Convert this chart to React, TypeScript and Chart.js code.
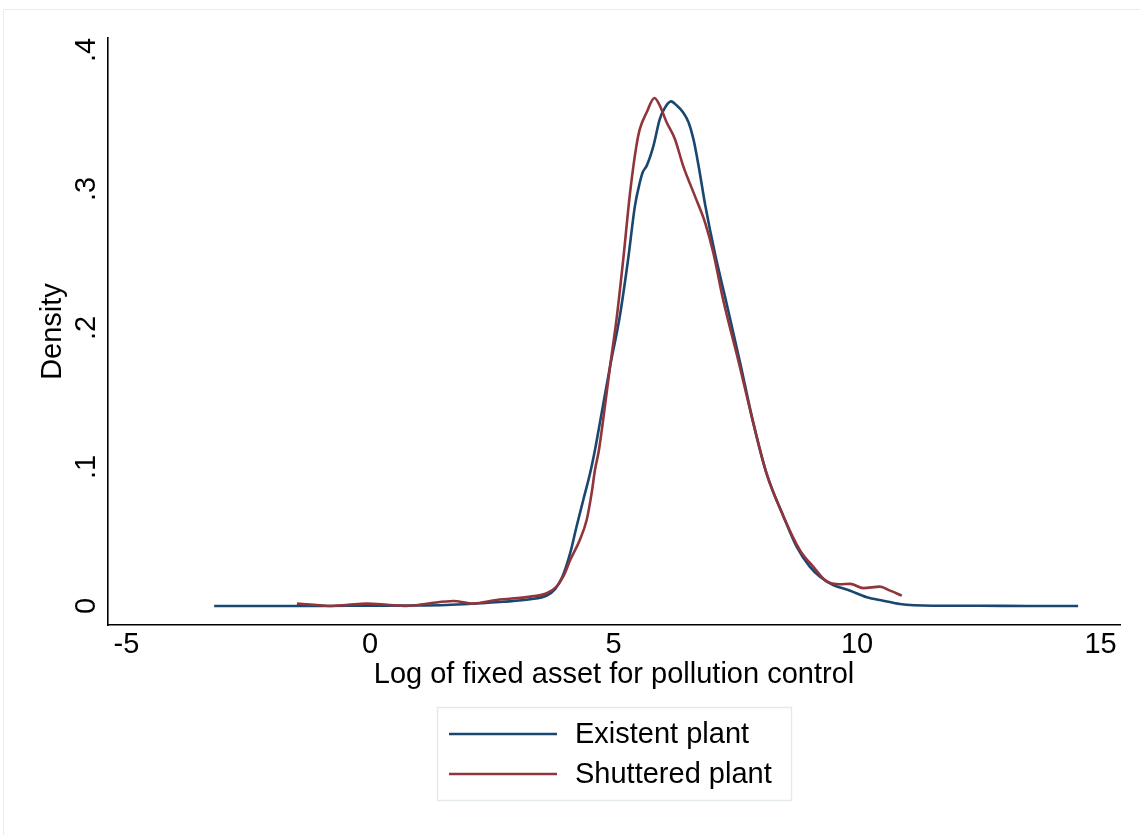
import React, { useEffect, useRef } from 'react';
import { Chart, registerables } from 'chart.js';

Chart.register(...registerables);

// ---- Data ----
const seriesNames = ['Existent plant', 'Shuttered plant'];

const existentX = [-3.2, -2.0, -1.0, 0.0, 0.9, 1.57, 2.26, 2.73, 3.29, 3.63, 3.8, 3.95, 4.11, 4.24, 4.38, 4.52, 4.62, 4.72, 4.93, 5.13, 5.3, 5.44, 5.54, 5.6, 5.68, 5.82, 5.95, 6.06, 6.18, 6.3, 6.43, 6.54, 6.64, 6.75, 6.88, 7.08, 7.32, 7.6, 7.87, 8.14, 8.49, 8.76, 9.03, 9.24, 9.51, 9.86, 10.2, 10.54, 10.88, 11.56, 12.5, 13.5, 14.54];
const existentY = [0, 0, 0, 0.0002, 0.0003, 0.0007, 0.002, 0.003, 0.0048, 0.0075, 0.012, 0.021, 0.038, 0.057, 0.0764, 0.0956, 0.1124, 0.1317, 0.1725, 0.2085, 0.2494, 0.2878, 0.3046, 0.312, 0.3166, 0.331, 0.3503, 0.3587, 0.363, 0.36, 0.355, 0.348, 0.336, 0.316, 0.289, 0.254, 0.218, 0.175, 0.1317, 0.0956, 0.0644, 0.0427, 0.0283, 0.0211, 0.0151, 0.011, 0.0063, 0.0038, 0.0014, 0.0002, 0.0001, 0, 0];

const shutteredX = [-1.5, -1.15, -0.82, -0.45, -0.07, 0.35, 0.75, 1.2, 1.71, 2.12, 2.6, 3.29, 3.63, 3.83, 3.98, 4.11, 4.31, 4.45, 4.55, 4.62, 4.7, 4.78, 4.93, 5.07, 5.2, 5.34, 5.47, 5.54, 5.68, 5.84, 5.95, 6.09, 6.26, 6.43, 6.67, 6.88, 7.05, 7.25, 7.56, 7.87, 8.14, 8.49, 8.83, 9.1, 9.38, 9.65, 9.86, 10.13, 10.47, 10.68, 10.92];
const shutteredY = [0.0017, 0.0009, 0.0, 0.0008, 0.0017, 0.0009, 0.0, 0.0018, 0.0036, 0.0017, 0.0043, 0.0067, 0.0091, 0.014, 0.022, 0.033, 0.0476, 0.062, 0.081, 0.098, 0.112, 0.132, 0.1725, 0.2085, 0.2494, 0.2974, 0.331, 0.343, 0.355, 0.3654, 0.36, 0.348, 0.336, 0.3166, 0.295, 0.2758, 0.254, 0.2205, 0.177, 0.1317, 0.0956, 0.0644, 0.04, 0.0283, 0.0175, 0.0156, 0.0159, 0.0128, 0.0139, 0.011, 0.0074];

const xTickValues = [-5, 0, 5, 10, 15];
const yTickValues = [0, 0.1, 0.2, 0.3, 0.4];
const yTickLabels = ['0', '.1', '.2', '.3', '.4'];

const xTitle = 'Log of fixed asset for pollution control';
const yTitle = 'Density';

// ---- Styling ----
const COLORS = ['#1a476f', '#90353b'];
const FONT = "'Liberation Sans', Arial, Helvetica, sans-serif";
const FONT_SIZE = 29;
const W = 1140;
const H = 835;

const toPoints = (xs: number[], ys: number[]) => xs.map((x, i) => ({ x, y: ys[i] }));

const backgroundPlugin = {
  id: 'bgFrame',
  beforeDraw(chart: any) {
    const ctx = chart.ctx;
    ctx.save();
    ctx.fillStyle = '#ffffff';
    ctx.fillRect(0, 0, chart.width, chart.height);
    ctx.strokeStyle = '#e6ecef';
    ctx.lineWidth = 1;
    ctx.beginPath();
    ctx.moveTo(3.5, chart.height);
    ctx.lineTo(3.5, 9.5);
    ctx.lineTo(chart.width, 9.5);
    ctx.stroke();
    ctx.restore();
  },
};

const legendPlugin = {
  id: 'boxLegend',
  afterDraw(chart: any) {
    const ctx = chart.ctx;
    ctx.save();
    ctx.strokeStyle = '#e3eaee';
    ctx.lineWidth = 1.5;
    ctx.strokeRect(437.5, 707.5, 354, 93);
    seriesNames.forEach((name, i) => {
      const y = 734 + i * 40;
      ctx.strokeStyle = COLORS[i];
      ctx.lineWidth = 2.6;
      ctx.beginPath();
      ctx.moveTo(449, y);
      ctx.lineTo(557, y);
      ctx.stroke();
      ctx.fillStyle = '#000';
      ctx.font = `${FONT_SIZE}px ${FONT}`;
      ctx.textBaseline = 'middle';
      ctx.textAlign = 'left';
      ctx.fillText(name, 575, y + 1);
    });
    ctx.restore();
  },
};

export default function App() {
  const canvasRef = useRef<HTMLCanvasElement | null>(null);

  useEffect(() => {
    document.body.style.margin = '0';
    const canvas = canvasRef.current;
    if (!canvas) return;

    const chart = new Chart(canvas, {
      type: 'line',
      data: {
        datasets: [
          {
            label: seriesNames[0],
            data: toPoints(existentX, existentY),
            borderColor: COLORS[0],
            backgroundColor: COLORS[0],
            borderWidth: 2.6,
            pointRadius: 0,
            fill: false,
            cubicInterpolationMode: 'monotone',
            order: 1,
          },
          {
            label: seriesNames[1],
            data: toPoints(shutteredX, shutteredY),
            borderColor: COLORS[1],
            backgroundColor: COLORS[1],
            borderWidth: 2.6,
            pointRadius: 0,
            fill: false,
            cubicInterpolationMode: 'monotone',
            order: 0,
          },
        ],
      },
      options: {
        animation: false,
        responsive: false,
        maintainAspectRatio: false,
        layout: { padding: { top: 38, right: 20, left: 0, bottom: 0 } },
        plugins: {
          legend: { display: false },
          tooltip: { enabled: false },
        },
        scales: {
          x: {
            type: 'linear',
            min: -5.38,
            max: 15.4,
            afterBuildTicks: (scale: any) => {
              scale.ticks = xTickValues.map((v) => ({ value: v }));
            },
            afterFit: (scale: any) => {
              scale.height = 210;
            },
            grid: { display: false, drawTicks: false },
            border: { display: true, color: '#000', width: 1.6 },
            ticks: {
              padding: 2.6,
              color: '#000',
              maxRotation: 0,
              minRotation: 0,
              autoSkip: false,
              font: { family: FONT, size: FONT_SIZE },
              callback: (v: any) => String(v),
            },
            title: {
              display: true,
              text: xTitle,
              color: '#000',
              font: { family: FONT, size: FONT_SIZE },
              padding: { top: 0, bottom: 143 },
            },
          },
          y: {
            type: 'linear',
            min: -0.0137,
            max: 0.4086,
            afterBuildTicks: (scale: any) => {
              scale.ticks = yTickValues.map((v) => ({ value: v }));
            },
            afterFit: (scale: any) => {
              scale.width = 108;
            },
            grid: { display: false, drawTicks: false },
            border: { display: true, color: '#000', width: 1.6 },
            ticks: {
              padding: 9.4,
              color: '#000',
              minRotation: 90,
              maxRotation: 90,
              crossAlign: 'center',
              autoSkip: false,
              font: { family: FONT, size: FONT_SIZE },
              callback: (v: any) => {
                const idx = yTickValues.findIndex((t) => Math.abs(t - Number(v)) < 1e-9);
                return idx >= 0 ? yTickLabels[idx] : '';
              },
            },
            title: {
              display: true,
              text: yTitle,
              color: '#000',
              font: { family: FONT, size: FONT_SIZE },
              padding: { top: 35.6, bottom: 0 },
            },
          },
        },
      } as any,
      plugins: [backgroundPlugin, legendPlugin],
    });

    return () => chart.destroy();
  }, []);

  return (
    <div style={{ width: W, height: H }}>
      <canvas ref={canvasRef} width={W} height={H} style={{ display: 'block', width: W, height: H }} />
    </div>
  );
}
